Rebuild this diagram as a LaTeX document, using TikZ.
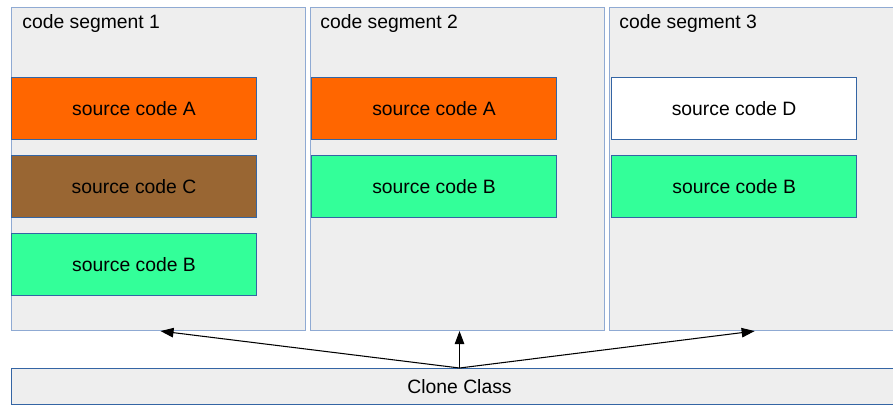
\documentclass[tikz,border=0pt]{standalone}
\usepackage{fontspec}
\setmainfont{Liberation Sans}
\usetikzlibrary{arrows.meta, positioning}

\definecolor{segfill}{HTML}{EEEEEE}
\definecolor{segline}{HTML}{8FAAD3}
\definecolor{boxline}{HTML}{3465A4}
\definecolor{codeorange}{HTML}{FF6600}
\definecolor{codebrown}{HTML}{996633}
\definecolor{codegreen}{HTML}{33FF99}

\begin{document}
\begin{tikzpicture}[
        node distance=0.3cm and 0.08cm,
        every node/.style={font=\fontsize{11}{13}\selectfont},
        segment/.style={rectangle, draw=segline, fill=segfill, line width=0.6pt, minimum width=5.88cm, minimum height=6.46cm, inner sep=0pt},
        codebox/.style={rectangle, draw=boxline, line width=0.6pt, minimum width=4.9cm, minimum height=1.24cm, inner sep=0pt},
        seglabel/.style={anchor=base west, inner sep=0pt},
        arrow/.style={-{Triangle[length=0.26cm, width=0.19cm]}, line width=0.6pt}
    ]
        \clip (0,0) rectangle (17.86,-8.1);

        % Segments
        \node[segment, anchor=north west] (seg1) at (0.22,-0.14) {};
        \node[segment, right=of seg1] (seg2) {};
        \node[segment, right=of seg2] (seg3) {};

        \node[seglabel] (lab1) at ([xshift=0.22cm, yshift=-0.42cm]seg1.north west) {code segment 1};
        \node[seglabel] (lab2) at ([xshift=0.2cm, yshift=-0.42cm]seg2.north west) {code segment 2};
        \node[seglabel] (lab3) at ([xshift=0.2cm, yshift=-0.42cm]seg3.north west) {code segment 3};

        % Segment 1
        \node[codebox, fill=codeorange, anchor=north west] (a1) at ([yshift=-1.4cm]seg1.north west) {source code A};
        \node[codebox, fill=codebrown, below=of a1] (c1) {source code C};
        \node[codebox, fill=codegreen, below=of c1] (b1) {source code B};

        % Segment 2
        \node[codebox, fill=codeorange, anchor=north west] (a2) at ([xshift=0.02cm, yshift=-1.4cm]seg2.north west) {source code A};
        \node[codebox, fill=codegreen, below=of a2] (b2) {source code B};

        % Segment 3
        \node[codebox, fill=white, anchor=north west] (d3) at ([xshift=0.04cm, yshift=-1.4cm]seg3.north west) {source code D};
        \node[codebox, fill=codegreen, below=of d3] (b3) {source code B};

        % Clone class
        \node[segment, draw=boxline, minimum width=17.92cm, minimum height=0.72cm, anchor=north west] (clone) at (0.22,-7.36) {Clone Class};

        % Arrows
        \draw[arrow] (clone.north) -- ([xshift=0.04cm]seg1.south);
        \draw[arrow] (clone.north) -- (seg2.south -| clone.north);
        \draw[arrow] (clone.north) -- ([xshift=-0.04cm]seg3.south);
    \end{tikzpicture}
\end{document}
